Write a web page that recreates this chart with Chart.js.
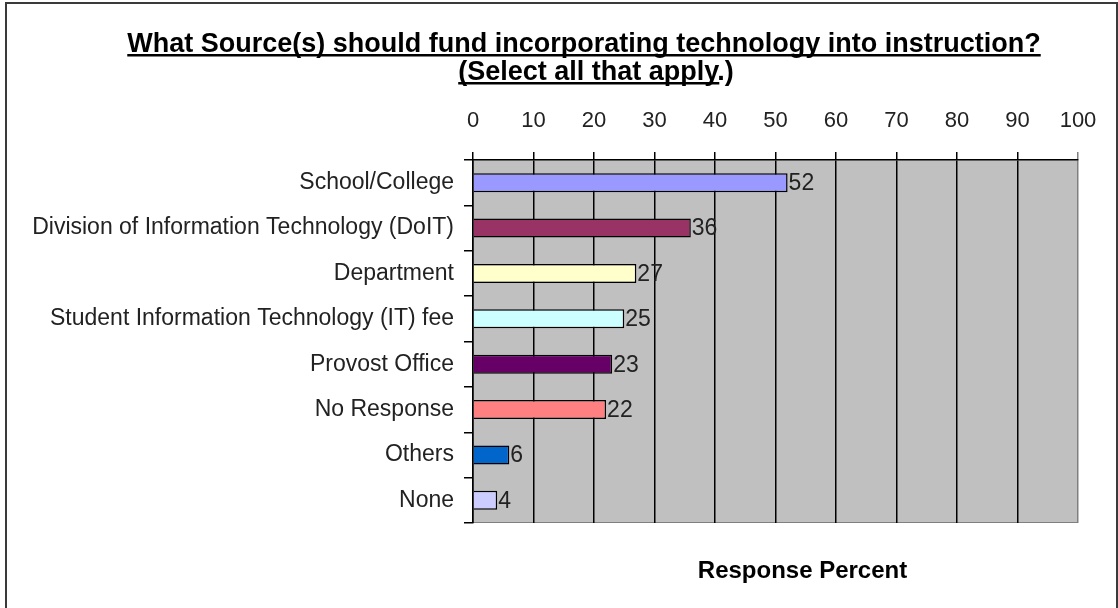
<!DOCTYPE html>
<html>
<head>
<meta charset="utf-8">
<title>Funding sources</title>
<script src="https://cdn.jsdelivr.net/npm/chart.js@4.4.1/dist/chart.umd.min.js"></script>
<style>
  html, body { margin: 0; padding: 0; background: #fff; overflow: hidden; }
  #wrap { position: relative; width: 1118px; height: 608px; }
  #frame {
    position: absolute; left: 5px; top: 2px; width: 1109px; height: 620px;
    border: 2px solid #3a3a3a; pointer-events: none;
  }
</style>
</head>
<body>
<div id="wrap">
  <canvas id="fundChart" width="1118" height="608"></canvas>
  <div id="frame"></div>
</div>
<script>
// Survey answers
const sources = [
  'School/College',
  'Division of Information Technology (DoIT)',
  'Department',
  'Student Information Technology (IT) fee',
  'Provost Office',
  'No Response',
  'Others',
  'None'
];
const responsePercent = [52, 36, 27, 25, 23, 22, 6, 4];
const barColors = ['#9999FF', '#993366', '#FFFFCC', '#CCFFFF', '#660066', '#FF8080', '#0066CC', '#CCCCFF'];
const axisTicks = [0, 10, 20, 30, 40, 50, 60, 70, 80, 90, 100];

const titleLines = ['What Source(s) should fund incorporating technology into instruction?', '(Select all that apply.)'];
const underlinedPart = ['What Source(s) should fund incorporating technology into instruction?', '(Select all that apply'];
const axisTitle = 'Response Percent';

const FONT = '"Liberation Sans", Arial, sans-serif';

// grey plot background
const plotBackground = {
  id: 'plotBackground',
  beforeDraw(chart) {
    const { ctx, chartArea: a } = chart;
    ctx.save();
    ctx.fillStyle = '#C0C0C0';
    ctx.fillRect(a.left, a.top, a.right - a.left, a.bottom - a.top);
    ctx.strokeStyle = '#808080';
    ctx.lineWidth = 1;
    ctx.beginPath();
    ctx.moveTo(a.left, a.bottom - 0.5);
    ctx.lineTo(a.right, a.bottom - 0.5);
    ctx.stroke();
    ctx.restore();
  }
};

// value next to each bar
const barValues = {
  id: 'barValues',
  afterDatasetsDraw(chart) {
    const { ctx } = chart;
    const meta = chart.getDatasetMeta(0);
    ctx.save();
    ctx.font = '23px ' + FONT;
    ctx.fillStyle = '#222';
    ctx.textAlign = 'left';
    ctx.textBaseline = 'middle';
    meta.data.forEach((bar, i) => {
      ctx.fillText(String(responsePercent[i]), bar.x + 1, bar.y + 1);
    });
    ctx.restore();
  }
};

// underlined heading and the axis caption under the plot
const headings = {
  id: 'headings',
  afterDraw(chart) {
    const { ctx, chartArea: a } = chart;
    ctx.save();
    ctx.fillStyle = '#000';
    ctx.font = 'bold 27px ' + FONT;
    ctx.textBaseline = 'alphabetic';
    ctx.textAlign = 'left';
    const centers = [584, 596];
    const baselines = [52, 80];
    titleLines.forEach((line, i) => {
      const w = ctx.measureText(line).width;
      const x0 = centers[i] - w / 2;
      ctx.fillText(line, x0, baselines[i]);
      const uw = ctx.measureText(underlinedPart[i]).width;
      ctx.fillRect(x0, baselines[i] + 2, uw, 2.5);
    });

    ctx.font = 'bold 24px ' + FONT;
    ctx.textAlign = 'center';
    ctx.fillText(axisTitle, (a.left + a.right) / 2 + 27, a.bottom + 55);
    ctx.restore();
  }
};

const ctx = document.getElementById('fundChart').getContext('2d');
const fundChart = new Chart(ctx, {
  type: 'bar',
  data: {
    labels: sources,
    datasets: [{
      data: responsePercent,
      backgroundColor: barColors,
      borderColor: '#000',
      borderWidth: 1.5,
      barPercentage: 0.42,
      categoryPercentage: 1
    }]
  },
  options: {
    indexAxis: 'y',
    responsive: false,
    animation: false,
    layout: { padding: { top: 100, left: 0, right: 40, bottom: 85 } },
    plugins: {
      legend: { display: false },
      tooltip: { enabled: false }
    },
    scales: {
      x: {
        position: 'top',
        min: 0,
        max: 100,
        afterBuildTicks(scale) {
          scale.ticks = axisTicks.map(v => ({ value: v }));
        },
        afterFit(scale) { scale.height = 60; },
        grid: {
          // last line sits on the plot edge and is lighter there
          color: c => (c.tick && c.tick.value === 100 ? '#808080' : '#000'),
          lineWidth: 1.5,
          tickLength: 8,
          drawTicks: true
        },
        border: { color: '#000', width: 1.5 },
        ticks: {
          color: '#222',
          padding: 18,
          maxRotation: 0,
          font: { family: FONT, size: 22 }
        }
      },
      y: {
        afterFit(scale) { scale.width = 473; },
        grid: {
          drawOnChartArea: false,
          color: '#000',
          lineWidth: 1.5,
          tickLength: 9
        },
        border: { color: '#000', width: 1.5 },
        ticks: {
          color: '#222',
          padding: 10,
          font: { family: FONT, size: 23 }
        }
      }
    }
  },
  plugins: [plotBackground, barValues, headings]
});
</script>
</body>
</html>
